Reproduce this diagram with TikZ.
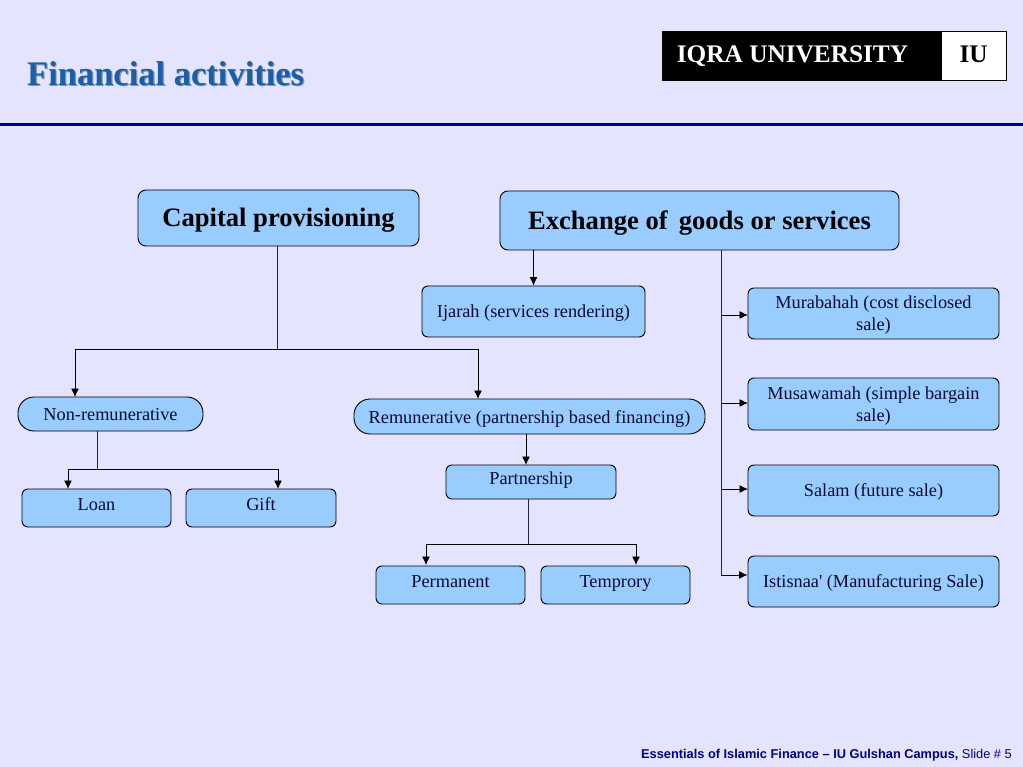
\documentclass[tikz,border=0pt]{standalone}
\usepackage{fontspec}
\setmainfont{Liberation Serif}
\setsansfont{Liberation Sans}
\usepackage{xcolor}
\usetikzlibrary{arrows.meta}
\definecolor{slideBack}{HTML}{E4E4FF}
\definecolor{boxBlue}{HTML}{99CCFF}
\definecolor{titleBlue}{HTML}{1A5FA8}
\definecolor{titleShade}{HTML}{8C96B4}
\definecolor{darkNavy}{HTML}{000080}
\definecolor{inkNavy}{HTML}{0A0A33}
\definecolor{lineGrey}{HTML}{23233F}

\begin{document}
\begin{tikzpicture}[
			x=1pt, y=-1pt,
			bigbox/.style={
				draw=black, fill=boxBlue, line width=0.9pt, rounded corners=8pt,
				font=\fontsize{26.6}{30}\selectfont\bfseries, text=black, align=center,
				text height=23pt
			},
			box/.style={
				draw=black, fill=boxBlue, line width=0.9pt, rounded corners=6pt,
				font=\fontsize{18.3}{22}\selectfont, text=inkNavy, align=center, inner sep=2pt,
				text height=16pt
			},
			twolines/.style={box, text height=38pt},
			pill/.style={box, rounded corners=16pt},
			raised/.style={text depth=9pt, text height=14pt},
			logo/.style={
				draw=black, minimum height=49pt, text height=20pt, text depth=6pt,
				font=\fontsize{25.3}{28}\selectfont\bfseries
			},
			heading/.style={font=\fontsize{34.5}{38}\selectfont\bfseries, anchor=west, inner sep=0pt},
			arrow/.style={-{Latex[length=8.5pt,width=8pt]}, line width=0.9pt, black},
			link/.style={line width=0.9pt, lineGrey}
			]
			
			\useasboundingbox (0, 0) rectangle (1023, 767);
			\fill[slideBack] (0, 0) rectangle (1023, 767);
			
			\coordinate (ruleleft) at (0, 124.5);
			\coordinate (ruleright) at (1023, 124.5);
			\draw[line width=3.5pt, darkNavy] (ruleleft) -- (ruleright);
			
			\node[heading, text=titleShade] (titleshade) at (28.2, 75.2)
			{Financial activities};
			\node[heading, text=titleBlue] (title) at (27, 74)
			{Financial activities};
			
			\node[logo, fill=black, text=white, minimum width=279pt] (iqra) at (801.5, 55.5)
			{IQRA UNIVERSITY\kern18pt};
			\node[logo, fill=white, text=black, minimum width=65.5pt] (iu) at (973.7, 55.5)
			{IU};
			
			\node[bigbox, minimum width=281pt, minimum height=56pt] (capital) at (278.5, 218)
			{Capital provisioning};
			\node[bigbox, minimum width=399pt, minimum height=59pt] (exchange) at (699.5, 220.5)
			{Exchange of\, goods or services};
			
			\node[box, minimum width=223pt, minimum height=51pt] (ijarah) at (533.5, 311.5)
			{Ijarah (services rendering)};
			\node[twolines, minimum width=251pt, minimum height=51pt] (murabahah) at (873.5, 313.5)
			{Murabahah (cost disclosed\\sale)};
			\node[twolines, minimum width=251pt, minimum height=52pt] (musawamah) at (873.5, 404)
			{Musawamah (simple bargain\\sale)};
			\node[box, minimum width=251pt, minimum height=51pt] (salam) at (873.5, 490.5)
			{Salam (future sale)};
			\node[box, minimum width=251pt, minimum height=51pt] (istisnaa) at (873.5, 581.5)
			{Istisnaa\textquotesingle{} (Manufacturing Sale)};
			
			\node[pill, text height=14pt, minimum width=185pt, minimum height=34pt] (nonrem) at (110.5, 414)
			{Non-remunerative};
			\node[pill, text height=18pt, minimum width=351pt, minimum height=35pt] (rem) at (529.5, 416.5)
			{Remunerative (partnership based financing)};
			\node[box, raised, minimum width=170pt, minimum height=34pt] (partnership) at (531, 482)
			{Partnership};
			\node[box, raised, minimum width=149pt, minimum height=38pt] (loan) at (96.5, 508)
			{Loan};
			\node[box, raised, minimum width=150pt, minimum height=38pt] (gift) at (261, 508)
			{Gift};
			\node[box, raised, minimum width=149pt, minimum height=38pt] (permanent) at (450.5, 585)
			{Permanent};
			\node[box, raised, minimum width=149pt, minimum height=38pt] (temprory) at (615.5, 585)
			{Temprory};
			
			\node[font=\fontsize{12.8}{14}\sffamily\bfseries, text=darkNavy, anchor=east, inner sep=0pt] (footer) at (1012, 755)
			{Essentials of Islamic Finance -- IU Gulshan Campus, \textmd{Slide \# 5}};
			
			\coordinate (capjoin) at (277.5, 349);
			\coordinate (nonremin) at (75, 397);
			\coordinate (remin) at (478, 399);
			\draw[link] (capital.south -| capjoin) -- (capjoin);
			\draw[arrow] (capjoin) -| (nonremin);
			\draw[arrow] (capjoin) -| (remin);
			
			\coordinate (nonremjoin) at (97, 469);
			\coordinate (loanin) at (68, 489);
			\coordinate (giftin) at (278, 489);
			\draw[link] (nonrem.south -| nonremjoin) -- (nonremjoin);
			\draw[arrow] (nonremjoin) -| (loanin);
			\draw[arrow] (nonremjoin) -| (giftin);
			
			\coordinate (partin) at (526, 465);
			\coordinate (partjoin) at (528.5, 544);
			\coordinate (permin) at (426, 565);
			\coordinate (tempin) at (636, 565);
			\draw[arrow] (rem.south -| partin) -- (partin);
			\draw[link] (partnership.south -| partjoin) -- (partjoin);
			\draw[arrow] (partjoin) -| (permin);
			\draw[arrow] (partjoin) -| (tempin);
			
			\coordinate (exchtrunk) at (721, 575);
			\coordinate (murin) at (748, 315);
			\coordinate (musin) at (748, 403);
			\coordinate (salin) at (748, 489);
			\draw[arrow] (exchange.south -| ijarah.north) -- (ijarah.north);
			\draw[link] (exchange.south -| exchtrunk) -- (exchtrunk);
			\draw[arrow] (exchtrunk |- murin) -- (murin);
			\draw[arrow] (exchtrunk |- musin) -- (musin);
			\draw[arrow] (exchtrunk |- salin) -- (salin);
			\draw[arrow] (exchtrunk) -- (exchtrunk -| istisnaa.west);
			
		\end{tikzpicture}
\end{document}
